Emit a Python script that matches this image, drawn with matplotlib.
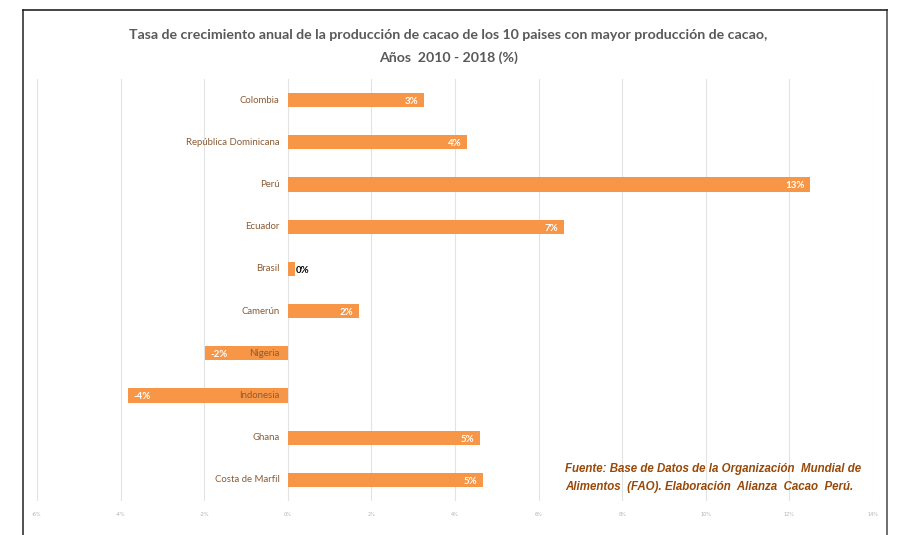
import matplotlib.pyplot as plt

# Data (growth rate, %)
countries = ["Colombia", "República Dominicana", "Perú", "Ecuador", "Brasil",
             "Camerún", "Nigeria", "Indonesia", "Ghana", "Costa de Marfil"]
growth = [3.25, 4.28, 12.5, 6.6, 0.18, 1.7, -1.99, -3.83, 4.59, 4.67]
value_labels = ["3%", "4%", "13%", "7%", "0%", "2%", "-2%", "-4%", "5%", "5%"]
x_ticks = [-6, -4, -2, 0, 2, 4, 6, 8, 10, 12, 14]

main_font = "Lato"
note_font = "Liberation Sans"
bar_color = "#F79646"
label_color = "#8B5B34"

fig = plt.figure(figsize=(8.97, 5.35), dpi=100)
ax = fig.add_axes([37 / 897, 1 - 501 / 535, (873 - 37) / 897, (501 - 79) / 535])

y = list(range(len(countries)))
ax.barh(y, growth, height=0.34, color=bar_color, zorder=2)
ax.set_ylim(len(countries) - 0.5, -0.5)
ax.set_xlim(-6, 14)

# Grid and axis styling
ax.set_xticks(x_ticks)
ax.set_xticklabels([f"{t}%" for t in x_ticks], fontsize=3.5, color="#b0b0b0")
ax.tick_params(axis="x", length=0, pad=8)
ax.set_yticks([])
ax.grid(axis="x", color="#e3e3e3", linewidth=0.8, zorder=0)
for s in ax.spines.values():
    s.set_visible(False)

# Category labels sit at the zero line
for yi, name in zip(y, countries):
    ax.annotate(name, (0, yi), xytext=(-6, 0), textcoords="offset points",
                ha="right", va="center", fontsize=6.9, color=label_color,
                family=main_font, zorder=3)

# Value labels
for yi, v, lab in zip(y, growth, value_labels):
    if abs(v) < 0.5:
        ax.annotate(lab, (v, yi), xytext=(0, -1), textcoords="offset points",
                    ha="left", va="center", fontsize=7, color="black",
                    family=main_font, weight="bold", zorder=3)
    elif v > 0:
        ax.annotate(lab, (v, yi), xytext=(-4, -1), textcoords="offset points",
                    ha="right", va="center", fontsize=7, color="white",
                    family=main_font, weight="bold", zorder=3)
    else:
        ax.annotate(lab, (v, yi), xytext=(4, -1), textcoords="offset points",
                    ha="left", va="center", fontsize=7, color="white",
                    family=main_font, weight="bold", zorder=3)

# Title
fig.text(0.5, 1 - 35 / 535,
         "Tasa de crecimiento anual de la producción de cacao de los 10 paises con mayor producción de cacao,",
         ha="center", va="center", fontsize=10.2, color="#595959", family=main_font, weight="bold")
fig.text(0.5, 1 - 58 / 535, "Años  2010 - 2018 (%)",
         ha="center", va="center", fontsize=10.2, color="#595959", family=main_font, weight="bold")

# Source note
fig.text(565 / 897, 1 - 469 / 535,
         "Fuente: Base de Datos de la Organización  Mundial de",
         ha="left", va="center", fontsize=8.3, color="#984807", family=note_font,
         weight="bold", style="italic")
fig.text(565 / 897, 1 - 487 / 535,
         "Alimentos  (FAO). Elaboración  Alianza  Cacao  Perú.",
         ha="left", va="center", fontsize=8.3, color="#984807", family=note_font,
         weight="bold", style="italic")

# Outer frame (open at the bottom, like the cropped screenshot)
fig.add_artist(plt.Line2D([23 / 897, 23 / 897], [0, 1 - 10 / 535], color="#333333", lw=1.2))
fig.add_artist(plt.Line2D([887 / 897, 887 / 897], [0, 1 - 10 / 535], color="#555555", lw=1.2))
fig.add_artist(plt.Line2D([23 / 897, 887 / 897], [1 - 10 / 535, 1 - 10 / 535], color="#222222", lw=1.2))

fig.savefig("out.png", dpi=100)
